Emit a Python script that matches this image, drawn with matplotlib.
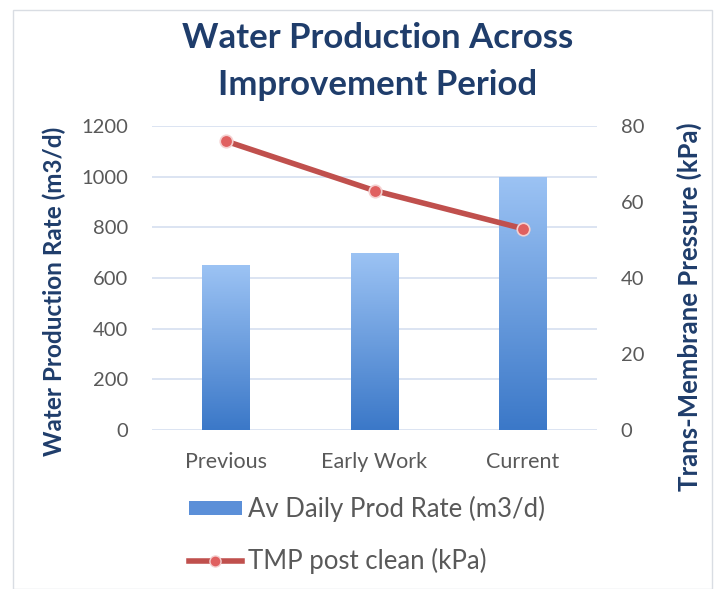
import matplotlib.pyplot as plt
import numpy as np
from matplotlib.patches import Rectangle
from matplotlib.lines import Line2D
from matplotlib.colors import LinearSegmentedColormap

# chart data
categories = ['Previous', 'Early Work', 'Current']
prod_rate = [650, 700, 1000]      # m3/d, left axis
tmp_clean = [76, 63, 53]          # kPa, right axis

navy = '#1f3d6b'
grey = '#595959'
red = '#c0504d'

plt.rcParams['font.family'] = ['Lato', 'DejaVu Sans']

fig = plt.figure(figsize=(7.17, 5.89), dpi=100)
fig.patches.append(Rectangle((13 / 717, 0), 699 / 717, 579 / 589, transform=fig.transFigure,
                             fill=False, edgecolor='#d9dde3', linewidth=1))

ax = fig.add_axes([152 / 717, 159 / 589, 445 / 717, 304 / 589])
x = np.arange(len(categories))
bars = ax.bar(x, prod_rate, width=0.32, color='none', zorder=2)

# vertical gradient in each bar: light at top, darker at bottom
grad = np.linspace(0, 1, 256).reshape(-1, 1)
cmap = LinearSegmentedColormap.from_list('bar', ['#3b78c8', '#9cc3f4'])
for b in bars:
    x0, w, h = b.get_x(), b.get_width(), b.get_height()
    im = ax.imshow(grad, cmap=cmap, origin='lower', aspect='auto',
                   extent=[x0, x0 + w, 0, h], zorder=2)
    im.set_clip_path(b)

ax.set_xlim(-0.5, 2.5)
ax.set_ylim(0, 1200)
ax.set_yticks(range(0, 1201, 200))
ax.set_xticks(x)
ax.set_xticklabels(categories)
ax.grid(axis='y', color='#d5dff0', linewidth=1.2, zorder=0)
for s in ax.spines.values():
    s.set_visible(False)
ax.tick_params(axis='y', length=0, labelsize=14.5, labelcolor=grey, pad=17)
ax.tick_params(axis='x', length=0, labelsize=15.5, labelcolor=grey, pad=16)
ax.set_ylabel('Water Production Rate (m3/d)', fontsize=17.5, fontweight='bold', color=navy)
ax.yaxis.set_label_coords(-0.194, 0.457)

ax2 = ax.twinx()
ax2.plot(x, tmp_clean, color=red, linewidth=4, marker='o', markersize=9,
         markerfacecolor='#e06060', markeredgecolor='#f4d0d0', markeredgewidth=1.2, zorder=3)
ax2.set_ylim(0, 80)
ax2.set_yticks(range(0, 81, 20))
for s in ax2.spines.values():
    s.set_visible(False)
ax2.tick_params(length=0, labelsize=14.5, labelcolor=grey, pad=17)
ax2.set_ylabel('Trans-Membrane Pressure (kPa)', fontsize=18.5, fontweight='bold', color=navy)
ax2.yaxis.set_label_coords(1.179, 0.405)

fig.text(378 / 717, 1 - 38 / 589, 'Water Production Across', ha='center', va='center',
         fontsize=25, fontweight='bold', color=navy)
fig.text(378 / 717, 1 - 85 / 589, 'Improvement Period', ha='center', va='center',
         fontsize=25, fontweight='bold', color=navy)

handles = [Rectangle((0, 0), 1, 1, facecolor='#5b8fd8'),
           Line2D([0], [0], color=red, linewidth=4, marker='o', markersize=8,
                  markerfacecolor='#e06060', markeredgecolor='#f4d0d0')]
fig.legend(handles, ['Av Daily Prod Rate (m3/d)', 'TMP post clean (kPa)'],
           loc='upper left', bbox_to_anchor=(166 / 717, 1 - 473 / 589), frameon=False,
           fontsize=18.5, labelcolor=grey, handlelength=2.05, handletextpad=0.25,
           labelspacing=1.0, handleheight=0.45)

fig.savefig('out.png', dpi=100)
